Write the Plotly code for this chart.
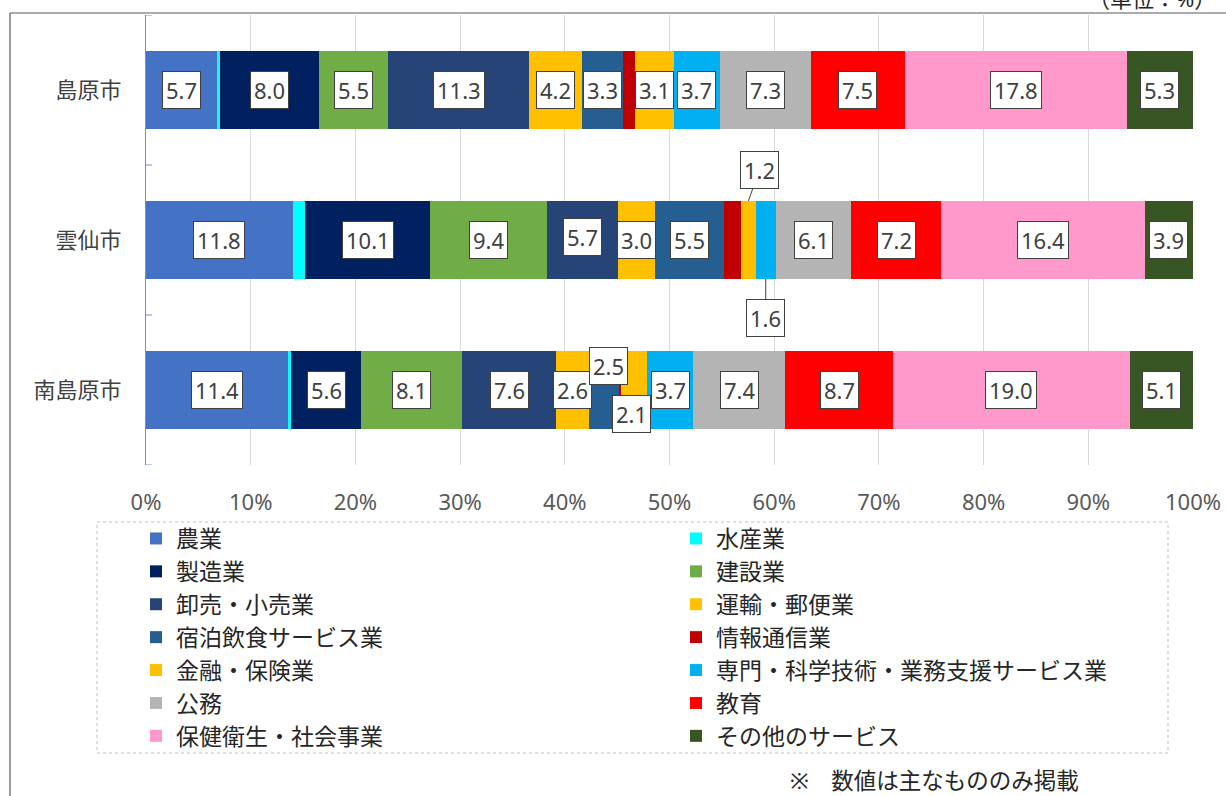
import plotly.graph_objects as go

cities = ['島原市', '雲仙市', '南島原市']
industries = ['農業', '水産業', '製造業', '建設業', '卸売・小売業', '運輸・郵便業',
              '宿泊飲食サービス業', '情報通信業', '金融・保険業',
              '専門・科学技術・業務支援サービス業', '公務', '教育',
              '保健衛生・社会事業', 'その他のサービス']

agri = [5.7, 11.8, 11.4]
fish = [0.2, 1.0, 0.3]
manuf = [8.0, 10.1, 5.6]
constr = [5.5, 9.4, 8.1]
trade = [11.3, 5.7, 7.6]
transport = [4.2, 3.0, 2.6]
hotel = [3.3, 5.5, 2.5]
info = [1.0, 1.4, 0.1]
finance = [3.1, 1.2, 2.1]
profess = [3.7, 1.6, 3.7]
public = [7.3, 6.1, 7.4]
educ = [7.5, 7.2, 8.7]
health = [17.8, 16.4, 19.0]
other = [5.3, 3.9, 5.1]

x_ticks = [0, 10, 20, 30, 40, 50, 60, 70, 80, 90, 100]
x_tick_labels = ['0%', '10%', '20%', '30%', '40%', '50%', '60%', '70%', '80%', '90%', '100%']

series = [agri, fish, manuf, constr, trade, transport, hotel, info, finance,
          profess, public, educ, health, other]

colors = ['#4472C4', '#00FFFF', '#002060', '#70AD47', '#264478', '#FFC000',
          '#255E91', '#C00000', '#FFC000', '#00B0F0', '#B4B4B4', '#FF0000',
          '#FF99CC', '#375623']

unlabeled = {'水産業', '情報通信業'}
# label placement tweaks (style): (city index, industry) -> dict
special = {
    (1, '金融・保険業'): dict(arrow=True, side=-1, ax=11, ay=-31),
    (1, '専門・科学技術・業務支援サービス業'): dict(arrow=True, side=1, ax=0, ay=39),
    (2, '宿泊飲食サービス業'): dict(arrow=False, xshift=4, yshift=24),
    (2, '金融・保険業'): dict(arrow=False, xshift=-3, yshift=-24),
    (1, '卸売・小売業'): dict(arrow=False, xshift=0, yshift=3),
}

FONT = 'Noto Sans, Noto Sans CJK JP, sans-serif'
BAR_W = 0.52

totals = [sum(s[i] for s in series) for i in range(len(cities))]
shares = [[s[i] / totals[i] * 100 for i in range(len(cities))] for s in series]

fig = go.Figure()
for name, sh, col in zip(industries, shares, colors):
    fig.add_trace(go.Bar(
        y=list(range(len(cities))), x=sh, name=name, orientation='h',
        marker=dict(color=col, line=dict(width=0)), width=BAR_W,
    ))

annotations = []
cum = [0.0] * len(cities)
for name, s, sh in zip(industries, series, shares):
    for i in range(len(cities)):
        mid = cum[i] + sh[i] / 2
        cum[i] += sh[i]
        if name in unlabeled:
            continue
        txt = f'{s[i]:.1f}'
        base = dict(text=txt, xref='x', yref='y', bgcolor='white',
                    bordercolor='#404040', borderwidth=1, borderpad=3,
                    font=dict(family=FONT, size=22, color='#404040'))
        sp = special.get((i, name))
        if sp and sp.get('arrow'):
            annotations.append(dict(base, x=mid, y=i + sp['side'] * BAR_W / 2,
                                    showarrow=True, arrowhead=0, arrowwidth=1,
                                    arrowcolor='#404040', ax=sp['ax'], ay=sp['ay']))
        elif sp:
            annotations.append(dict(base, x=mid, y=i, showarrow=False,
                                    xshift=sp['xshift'], yshift=sp['yshift']))
        else:
            annotations.append(dict(base, x=mid, y=i, showarrow=False))

# pixel -> paper helpers (plot area 146..1193 x 15..465)
def px(v):
    return (v - 146) / 1047.0

def py(v):
    return (465 - v) / 450.0

annotations.append(dict(text='※　数値は主なもののみ掲載', xref='paper', yref='paper',
                        x=px(788), y=py(780), xanchor='left', yanchor='middle',
                        showarrow=False, font=dict(family=FONT, size=22.5, color='#262626')))
annotations.append(dict(text='（単位：%）', xref='paper', yref='paper',
                        x=px(1218), y=py(-2), xanchor='right', yanchor='middle',
                        showarrow=False, font=dict(family=FONT, size=22, color='#262626')))

shapes = [
    dict(type='line', xref='paper', yref='paper', x0=px(10), x1=px(10),
         y0=py(13), y1=py(820), line=dict(color='#595959', width=1.2)),
    dict(type='line', xref='paper', yref='paper', x0=px(10), x1=px(1240),
         y0=py(13), y1=py(13), line=dict(color='#595959', width=1.2)),
    dict(type='rect', xref='paper', yref='paper', x0=px(97), x1=px(1168),
         y0=py(522), y1=py(753), line=dict(color='#BFBFBF', width=1, dash='dot')),
]

fig.update_layout(
    width=1226, height=796,
    margin=dict(l=146, r=33, t=15, b=331, autoexpand=False),
    paper_bgcolor='white', plot_bgcolor='white',
    barmode='stack', bargap=0,
    font=dict(family=FONT, size=22, color='#404040'),
    showlegend=True,
    legend=dict(orientation='h', x=px(136), y=py(517), xanchor='left', yanchor='top',
                traceorder='normal', entrywidth=495, entrywidthmode='pixels',
                font=dict(family=FONT, size=23, color='#262626'),
                bgcolor='rgba(0,0,0,0)', borderwidth=0),
    xaxis=dict(range=[0, 100], tickmode='array', tickvals=x_ticks, ticktext=x_tick_labels,
               showgrid=True, gridcolor='#D9D9D9', gridwidth=1, zeroline=False,
               showline=False, ticks='', ticklabelstandoff=22,
               tickfont=dict(family=FONT, size=22, color='#595959'), fixedrange=True),
    yaxis=dict(tickvals=list(range(len(cities))), ticktext=cities,
               range=[2.5, -0.5], showline=True, linecolor='#6F8FD0', linewidth=1,
               showgrid=False, zeroline=False, ticks='', ticklabelstandoff=19,
               tickfont=dict(family=FONT, size=22, color='#404040'), fixedrange=True),
    annotations=annotations,
    shapes=shapes,
)

# boundary tick marks on the category axis
for b in [-0.5, 0.5, 1.5, 2.5]:
    fig.add_shape(type='line', xref='paper', yref='y', x0=0, x1=6 / 1047.0,
                  y0=b, y1=b, line=dict(color='#6F8FD0', width=1))

fig.write_html('out.html', config={'displayModeBar': False},
               post_script="document.body.style.margin='0px';")
